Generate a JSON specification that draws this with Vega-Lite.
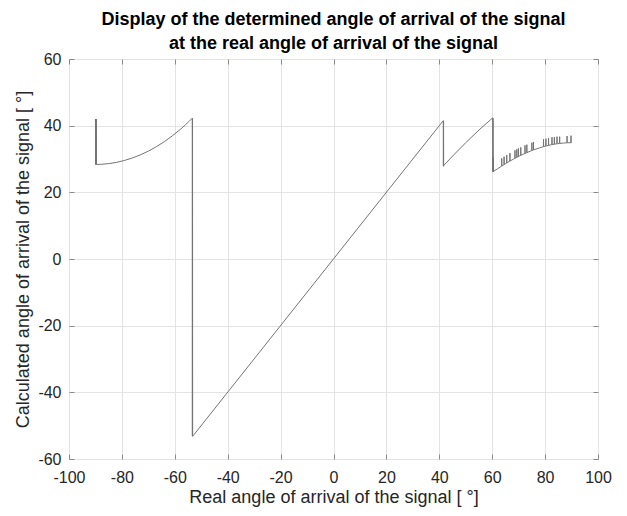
{
  "$schema": "https://vega.github.io/schema/vega-lite/v6.json",
  "autosize": {"type": "none"},
  "width": 529,
  "height": 400,
  "padding": {"left": 69, "top": 59, "right": 29, "bottom": 57},
  "background": "white",
  "title": {
    "text": ["Display of the determined angle of arrival of the signal", "at the real angle of arrival of the signal"],
    "font": "Liberation Sans",
    "fontSize": 18,
    "fontWeight": "bold",
    "color": "#000000",
    "anchor": "middle",
    "lineHeight": 24,
    "offset": -2
  },
  "config": {
    "view": {"stroke": "#8a8a8a", "strokeWidth": 1},
    "axis": {
      "labelFont": "Liberation Sans",
      "labelFontSize": 16,
      "labelColor": "#262626",
      "titleFont": "Liberation Sans",
      "titleFontSize": 18,
      "titleFontWeight": "normal",
      "titleColor": "#262626",
      "gridColor": "#e3e3e3",
      "gridWidth": 1,
      "gridOpacity": 1,
      "domain": false,
      "tickColor": "#8a8a8a",
      "tickSize": -5,
      "labelFlush": false,
      "labelOverlap": false,
      "labelExpr": "'' + datum.value"
    }
  },
  "data": {
    "values": [
      {"x": -90, "y": 42.0}, {"x": -89.9, "y": 28.3}, {"x": -89.85, "y": 41.8}, {"x": -89.75, "y": 28.4}, {"x": -89.7, "y": 42.0}, {"x": -89.6, "y": 28.36},
      {"x": -88, "y": 28.40}, {"x": -85, "y": 28.61}, {"x": -82, "y": 28.99}, {"x": -79, "y": 29.57}, {"x": -76, "y": 30.31}, {"x": -73, "y": 31.25},
      {"x": -70, "y": 32.36}, {"x": -67, "y": 33.68}, {"x": -64, "y": 35.18}, {"x": -61, "y": 36.90}, {"x": -58, "y": 38.83}, {"x": -56, "y": 40.24},
      {"x": -54.5, "y": 41.37}, {"x": -53.4, "y": 42.24}, {"x": -53.35, "y": -53.0}, {"x": -53.3, "y": 42.1}, {"x": -53.25, "y": -53.2},
      {"x": 41.5, "y": 41.5}, {"x": 41.55, "y": 27.8}, {"x": 41.6, "y": 41.3}, {"x": 41.65, "y": 28.0},
      {"x": 45, "y": 30.87}, {"x": 50, "y": 34.89}, {"x": 55, "y": 38.70}, {"x": 60.2, "y": 42.36},
      {"x": 60.25, "y": 26.2}, {"x": 60.3, "y": 42.2}, {"x": 60.35, "y": 26.14}, {"x": 60.4, "y": 30.5}, {"x": 60.5, "y": 26.3},
      {"x": 62, "y": 27.06},
      {"x": 63.55, "y": 27.85}, {"x": 63.6, "y": 30.2}, {"x": 63.65, "y": 27.9},
      {"x": 64.45, "y": 28.3}, {"x": 64.5, "y": 30.7}, {"x": 64.55, "y": 28.35},
      {"x": 65.45, "y": 28.8}, {"x": 65.5, "y": 31.2}, {"x": 65.55, "y": 28.83},
      {"x": 66.65, "y": 29.35}, {"x": 66.7, "y": 31.8}, {"x": 66.75, "y": 29.4},
      {"x": 68, "y": 29.95},
      {"x": 68.55, "y": 30.18}, {"x": 68.6, "y": 32.6}, {"x": 68.65, "y": 30.22},
      {"x": 69.25, "y": 30.47}, {"x": 69.3, "y": 32.9}, {"x": 69.35, "y": 30.51},
      {"x": 69.85, "y": 30.72}, {"x": 69.9, "y": 33.2}, {"x": 69.95, "y": 30.76},
      {"x": 70.75, "y": 31.06}, {"x": 70.8, "y": 33.5}, {"x": 70.85, "y": 31.1},
      {"x": 72.35, "y": 31.66}, {"x": 72.4, "y": 34.1}, {"x": 72.45, "y": 31.7},
      {"x": 73.05, "y": 31.9}, {"x": 73.1, "y": 34.3}, {"x": 73.15, "y": 31.94},
      {"x": 74.95, "y": 32.52}, {"x": 75.0, "y": 34.9}, {"x": 75.05, "y": 32.56},
      {"x": 75.55, "y": 32.7}, {"x": 75.6, "y": 35.1}, {"x": 75.65, "y": 32.74},
      {"x": 78, "y": 33.37},
      {"x": 79.35, "y": 33.69}, {"x": 79.4, "y": 35.9}, {"x": 79.45, "y": 33.71},
      {"x": 80.25, "y": 33.89}, {"x": 80.3, "y": 36.1}, {"x": 80.35, "y": 33.91},
      {"x": 81.25, "y": 34.08}, {"x": 81.3, "y": 36.3}, {"x": 81.35, "y": 34.1},
      {"x": 82.55, "y": 34.3}, {"x": 82.6, "y": 36.5}, {"x": 82.65, "y": 34.32},
      {"x": 83.45, "y": 34.43}, {"x": 83.5, "y": 36.6}, {"x": 83.55, "y": 34.45},
      {"x": 84.45, "y": 34.55}, {"x": 84.5, "y": 36.7}, {"x": 84.55, "y": 34.57},
      {"x": 85.45, "y": 34.66}, {"x": 85.5, "y": 36.7}, {"x": 85.55, "y": 34.68},
      {"x": 87, "y": 34.79},
      {"x": 88.25, "y": 34.85}, {"x": 88.3, "y": 36.9}, {"x": 88.35, "y": 34.85},
      {"x": 89.75, "y": 34.89}, {"x": 89.8, "y": 37.0}, {"x": 89.85, "y": 34.89},
      {"x": 90, "y": 34.89}
    ]
  },
  "layer": [
    {
      "mark": {"type": "line", "color": "#747474", "strokeWidth": 1, "clip": true},
      "encoding": {
        "x": {
          "field": "x", "type": "quantitative",
          "scale": {"domain": [-100, 100], "nice": false, "zero": false},
          "axis": {"values": [-100, -80, -60, -40, -20, 0, 20, 40, 60, 80, 100], "title": "Real angle of arrival of the signal [ °]", "labelPadding": 15, "titlePadding": 3}
        },
        "y": {
          "field": "y", "type": "quantitative",
          "scale": {"domain": [-60, 60], "nice": false, "zero": false},
          "axis": {"values": [-60, -40, -20, 0, 20, 40, 60], "title": "Calculated angle of arrival of the signal [ °]", "labelPadding": 13, "titlePadding": 5}
        },
        "order": {"value": null}
      }
    },
    {
      "mark": {"type": "line", "opacity": 0},
      "encoding": {
        "x": {
          "field": "x", "type": "quantitative",
          "axis": {"orient": "top", "values": [-100, -80, -60, -40, -20, 0, 20, 40, 60, 80, 100], "labels": false, "grid": false, "title": null}
        },
        "y": {
          "field": "y", "type": "quantitative",
          "axis": {"orient": "right", "values": [-60, -40, -20, 0, 20, 40, 60], "labels": false, "grid": false, "title": null}
        },
        "order": {"value": null}
      }
    }
  ],
  "resolve": {"axis": {"x": "independent", "y": "independent"}}
}
